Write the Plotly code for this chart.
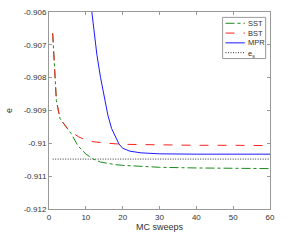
import plotly.graph_objects as go

# SST (green dash-dot)
sst_x = [1, 2, 3, 4, 5, 6, 7, 8, 9, 10, 11, 12, 14, 16, 18, 20, 25, 30, 40, 50, 60]
sst_y = [-0.90665, -0.9087, -0.90925, -0.9094, -0.90955, -0.9097, -0.9099, -0.9101, -0.9102,
         -0.91033, -0.9104, -0.91048, -0.91057, -0.91062, -0.91065, -0.91067, -0.9107,
         -0.91073, -0.91075, -0.91076, -0.91077]

# BST (red dashed)
bst_x = [1, 2, 3, 4, 5, 6, 7, 8, 9, 10, 12, 15, 20, 30, 40, 50, 60]
bst_y = [-0.90665, -0.9087, -0.90925, -0.9094, -0.90955, -0.90965, -0.90973, -0.9098,
         -0.90985, -0.9099, -0.90995, -0.90999, -0.91003, -0.91005, -0.91006, -0.91006, -0.91007]

# MPR (blue solid)
mpr_x = [11, 12, 13, 14, 15, 16, 17, 18, 19, 20, 22, 25, 30, 40, 60]
mpr_y = [-0.9054, -0.9064, -0.9073, -0.908, -0.9086, -0.90915, -0.90955, -0.9098, -0.91002,
         -0.91015, -0.91024, -0.91029, -0.91032, -0.91033, -0.91033]

# e_s reference (dotted)
es_x = [1, 60]
es_y = [-0.91048, -0.91048]

y_ticks = [-0.906, -0.907, -0.908, -0.909, -0.910, -0.911, -0.912]
y_ticktext = ["-0.906", "-0.907", "-0.908", "-0.909", "-0.91", "-0.911", "-0.912"]
x_ticks = [0, 10, 20, 30, 40, 50, 60]

series_names = ["SST", "BST", "MPR", "e<sub>s</sub>"]
series_colors = ["#1a8a1a", "#ff2020", "#1a1aff", "#333333"]
series_dash = ["dashdot", "dash", "solid", "1px,1.5px"]
series_x = [sst_x, bst_x, mpr_x, es_x]
series_y = [sst_y, bst_y, mpr_y, es_y]

FONT = "Liberation Sans, Arial"

fig = go.Figure()
for name, col, dash, xs, ys in zip(series_names, series_colors, series_dash, series_x, series_y):
    fig.add_trace(go.Scatter(x=xs, y=ys, mode="lines", name=name,
                             line=dict(color=col, width=1, dash=dash), showlegend=False))

axis_common = dict(showline=True, linecolor="#999999", linewidth=1, mirror="ticks",
                   ticks="inside", ticklen=3, tickcolor="#999999", showgrid=False,
                   zeroline=False, tickfont=dict(family=FONT, size=8, color="#333333"))

fig.update_xaxes(range=[0, 60], tickvals=x_ticks,
                 title=dict(text="MC sweeps", font=dict(family=FONT, size=9, color="#333333"), standoff=2),
                 **axis_common)
fig.update_yaxes(range=[-0.912, -0.906], tickvals=y_ticks, ticktext=y_ticktext,
                 title=dict(text="e", font=dict(family=FONT, size=9, color="#333333"), standoff=9),
                 **axis_common)

W, H = 296, 247
ml, mr, mt, mb = 41.5, 26, 8, 38
pw, ph = W - ml - mr, H - mt - mb

def px_to_paper(xp, yp):
    return (xp - ml) / pw, (H - mb - yp) / ph

# manual compact legend box (pixel positions converted to paper coords)
shapes = []
annotations = []
x0, y0 = px_to_paper(221, 13.5)
x1, y1 = px_to_paper(265.5, 55.5)
shapes.append(dict(type="rect", xref="paper", yref="paper", x0=x0, y0=y1, x1=x1, y1=y0,
                   line=dict(color="#999999", width=1), fillcolor="white", layer="above"))
for i, (name, col, dash) in enumerate(zip(series_names, series_colors, series_dash)):
    yc = 19.5 + i * 10
    lx0, ly = px_to_paper(224, yc)
    lx1, _ = px_to_paper(244, yc)
    shapes.append(dict(type="line", xref="paper", yref="paper", x0=lx0, y0=ly, x1=lx1, y1=ly,
                       line=dict(color=col, width=1, dash=dash), layer="above"))
    tx, ty = px_to_paper(245, yc + (1.5 if i == 3 else 0))
    annotations.append(dict(xref="paper", yref="paper", x=tx, y=ty, text=name, showarrow=False,
                            xanchor="left", yanchor="middle",
                            font=dict(family=FONT, size=7.5, color="#333333")))

fig.update_layout(
    width=W, height=H,
    margin=dict(l=ml, r=mr, t=mt, b=mb),
    plot_bgcolor="white", paper_bgcolor="white",
    shapes=shapes, annotations=annotations,
    showlegend=False,
)

fig.write_html("out.html", config={"displayModeBar": False},
               post_script="document.body.style.margin='0';document.body.style.overflow='hidden';")
